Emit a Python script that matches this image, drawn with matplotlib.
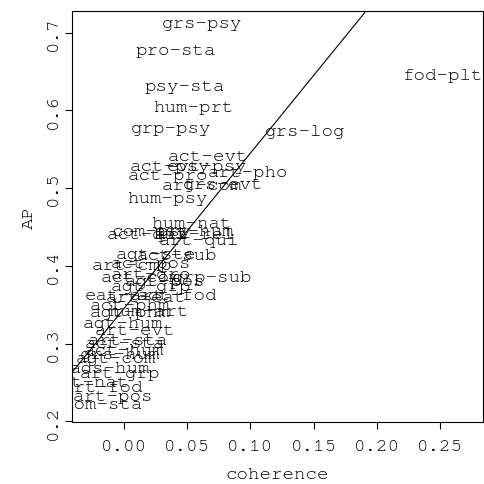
import matplotlib
matplotlib.use("Agg")
import matplotlib.pyplot as plt

# pair labels with coherence and AP
labels = ["grs-psy", "pro-sta", "psy-sta", "hum-prt", "grp-psy", "grs-log", "fod-plt",
          "act-evt", "act-psy", "evt-psy", "act-pro", "art-pho", "art-com", "grs-evt",
          "hum-psy", "hum-nat", "com-psy", "psy-hum", "act-qui", "art-rel", "art-qui",
          "act-sub", "agt-ste", "art-cmp", "act-pos", "art-gro", "act-com", "agt-pos",
          "grp-sub", "agt-grp", "eat-art", "art-eat", "act-fod", "act-phm", "agt-phm",
          "hum-art", "agt-hum", "art-evt", "act-sta", "art-sta", "act-hum", "grs-hum",
          "agt-com", "ads-hum", "art-grp", "art-nat", "art-fod", "art-pos", "com-sta"]
coherence = [0.062, 0.041, 0.048, 0.055, 0.037, 0.143, 0.252,
             0.066, 0.036, 0.066, 0.035, 0.098, 0.062, 0.078,
             0.034, 0.053, 0.022, 0.055, 0.018, 0.056, 0.059,
             0.042, 0.025, 0.006, 0.021, 0.021, 0.013, 0.032,
             0.070, 0.021, 0.001, 0.017, 0.042, 0.005, 0.005,
             0.019, -0.001, 0.009, 0.001, 0.003, 0.000, -0.003,
             -0.006, -0.011, -0.003, -0.028, -0.017, -0.009, -0.017]
ap = [0.712, 0.678, 0.631, 0.604, 0.577, 0.573, 0.646,
      0.541, 0.528, 0.528, 0.517, 0.521, 0.504, 0.505,
      0.487, 0.455, 0.445, 0.445, 0.441, 0.441, 0.433,
      0.414, 0.415, 0.401, 0.404, 0.390, 0.385, 0.381,
      0.385, 0.374, 0.363, 0.360, 0.363, 0.349, 0.341,
      0.342, 0.327, 0.317, 0.301, 0.304, 0.292, 0.287,
      0.281, 0.269, 0.262, 0.250, 0.244, 0.233, 0.222]

# fitted line AP = a + b * coherence
fit_a = 0.345
fit_b = 2.0

mono = ["Nimbus Mono PS", "Courier New", "FreeMono", "Liberation Mono"]
fs = 13.8

fig = plt.figure(figsize=(4.84, 4.85), dpi=100)
ax = fig.add_axes([72 / 484, 1 - 423 / 485, 411 / 484, 411 / 485])

for lab, x, y in zip(labels, coherence, ap):
    ax.text(x, y, lab, ha="center", va="center", fontsize=fs,
            family=mono, clip_on=True)

ax.axline((0, fit_a), slope=fit_b, color="black", lw=0.8)

ax.set_xlim(-0.0411, 0.284)
ax.set_ylim(0.199, 0.728)
ax.set_xticks([0.00, 0.05, 0.10, 0.15, 0.20, 0.25])
ax.set_xticklabels(["0.00", "0.05", "0.10", "0.15", "0.20", "0.25"])
ax.set_yticks([0.2, 0.3, 0.4, 0.5, 0.6, 0.7])
ax.set_yticklabels(["0.2", "0.3", "0.4", "0.5", "0.6", "0.7"])
ax.tick_params(length=5, width=0.8, labelsize=fs)
ax.tick_params(axis="x", pad=7.5)
ax.tick_params(axis="y", pad=4)
for t in ax.get_xticklabels() + ax.get_yticklabels():
    t.set_family(mono)
for t in ax.get_yticklabels():
    t.set_rotation(90)
    t.set_va("center")
for s in ax.spines.values():
    s.set_linewidth(0.8)

ax.set_xlabel("coherence", fontsize=fs, family=mono)
ax.set_ylabel("AP", fontsize=fs, family=mono)
ax.xaxis.set_label_coords(0.5, -52 / 411)
ax.yaxis.set_label_coords(-43 / 411, 0.5)
ax.xaxis.label.set_va("center")
ax.yaxis.label.set_va("center")

fig.savefig("out.png", dpi=100)
